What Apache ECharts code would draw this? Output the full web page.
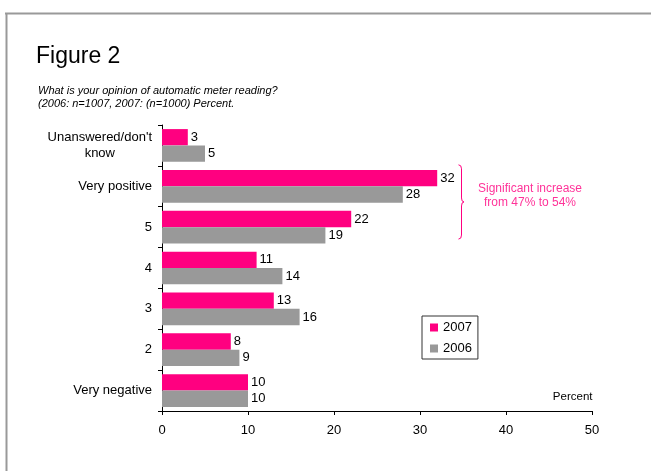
<!DOCTYPE html>
<html>
<head>
<meta charset="utf-8">
<title>Figure 2</title>
<script src="https://cdn.jsdelivr.net/npm/echarts@6/dist/echarts.min.js"></script>
<style>
  html, body { margin: 0; padding: 0; background: #fff; }
  #chart { width: 651px; height: 471px; }
</style>
</head>
<body>
<div id="chart"></div>
<script>
// Answer categories, top to bottom
const categories = ['Unanswered/don\'t\nknow', 'Very positive', '5', '4', '3', '2', 'Very negative'];
// Share of respondents, percent
const values2007 = [3, 32, 22, 11, 13, 8, 10];
const values2006 = [5, 28, 19, 14, 16, 9, 10];
const seriesNames = ['2007', '2006'];
const xTicks = [0, 10, 20, 30, 40, 50];

const PINK = '#ff0080';
const GREY = '#999999';
const NOTE = '#ff3399';
const FONT = '"Liberation Sans", Arial, sans-serif';

const chart = echarts.init(document.getElementById('chart'), null, { renderer: 'canvas' });

const valueLabel = {
  show: true,
  position: 'right',
  distance: 3,
  color: '#000',
  fontSize: 13,
  fontFamily: FONT
};

chart.setOption({
  animation: false,
  backgroundColor: '#fff',
  textStyle: { fontFamily: FONT },
  title: [
    {
      text: 'Figure 2',
      left: 36,
      top: 45,
      padding: 0,
      textStyle: { fontSize: 23, fontWeight: 'normal', color: '#000', fontFamily: FONT }
    },
    {
      text: 'What is your opinion of automatic meter reading?\n(2006: n=1007, 2007: (n=1000) Percent.',
      left: 38,
      top: 84,
      padding: 0,
      textStyle: { fontSize: 11, fontStyle: 'italic', fontWeight: 'normal', color: '#000', lineHeight: 13, fontFamily: FONT }
    }
  ],
  legend: {
    data: seriesNames,
    orient: 'vertical',
    left: 422,
    top: 316,
    padding: [5, 6, 4, 8],
    itemGap: 8,
    itemWidth: 8,
    itemHeight: 8,
    icon: 'rect',
    borderColor: '#333',
    borderWidth: 1,
    textStyle: { fontSize: 13, color: '#000', fontFamily: FONT }
  },
  grid: { left: 162, right: 59, top: 125, bottom: 60, containLabel: false },
  xAxis: {
    type: 'value',
    min: xTicks[0],
    max: xTicks[xTicks.length - 1],
    interval: xTicks[1] - xTicks[0],
    axisLine: { show: true, lineStyle: { color: '#000', width: 1 } },
    axisTick: { show: true, length: 4, lineStyle: { color: '#000' } },
    splitLine: { show: false },
    axisLabel: { color: '#000', fontSize: 13, margin: 13, fontFamily: FONT }
  },
  yAxis: {
    type: 'category',
    inverse: true,
    data: categories,
    axisLine: { show: true, lineStyle: { color: '#000', width: 1 } },
    axisTick: { show: true, length: 4, alignWithLabel: false, lineStyle: { color: '#000' } },
    axisLabel: {
      color: '#000',
      fontSize: 13,
      margin: 10,
      fontFamily: FONT,
      formatter: function (v) {
        return v.indexOf('\n') >= 0 ? '{c|' + v + '}' : v;
      },
      rich: { c: { align: 'center', fontSize: 13, lineHeight: 16, color: '#000', fontFamily: FONT } }
    }
  },
  series: [
    {
      name: seriesNames[0],
      type: 'bar',
      data: values2007,
      itemStyle: { color: PINK },
      barGap: '0%',
      barCategoryGap: '20%',
      label: valueLabel
    },
    {
      name: seriesNames[1],
      type: 'bar',
      data: values2006,
      itemStyle: { color: GREY },
      barGap: '0%',
      barCategoryGap: '20%',
      label: valueLabel
    }
  ]
});

// Brace and note next to the two top-rated answers, placed from the axis scale
function drawNotes() {
  const yTop = chart.convertToPixel({ yAxisIndex: 0 }, categories[1]);
  const yBot = chart.convertToPixel({ yAxisIndex: 0 }, categories[2]);
  const band = yBot - yTop;
  const y0 = yTop - band / 2 - 1;
  const y1 = yBot + band / 2 - 8.5;
  const ym = (y0 + y1) / 2;
  const xb = 461.5;
  const r = 4;
  const xEnd = chart.convertToPixel({ xAxisIndex: 0 }, xTicks[xTicks.length - 1]);
  const yAxisBottom = chart.convertToPixel({ yAxisIndex: 0 }, categories[categories.length - 1]) + band / 2;
  const braceStyle = { stroke: PINK, lineWidth: 1, fill: null };

  chart.setOption({
    graphic: [
      // page frame
      { type: 'line', shape: { x1: 5, y1: 13.5, x2: 651, y2: 13.5 }, style: { stroke: '#999', lineWidth: 2 }, silent: true },
      { type: 'line', shape: { x1: 6.5, y1: 13, x2: 6.5, y2: 471 }, style: { stroke: '#999', lineWidth: 2 }, silent: true },
      // curly brace
      { type: 'bezierCurve', shape: { x1: xb - 3, y1: y0, cpx1: xb, cpy1: y0, x2: xb, y2: y0 + r }, style: braceStyle, silent: true },
      { type: 'line', shape: { x1: xb, y1: y0 + r, x2: xb, y2: ym - r }, style: braceStyle, silent: true },
      { type: 'bezierCurve', shape: { x1: xb, y1: ym - r, cpx1: xb, cpy1: ym, x2: xb + 2.5, y2: ym }, style: braceStyle, silent: true },
      { type: 'bezierCurve', shape: { x1: xb + 2.5, y1: ym, cpx1: xb, cpy1: ym, x2: xb, y2: ym + r }, style: braceStyle, silent: true },
      { type: 'line', shape: { x1: xb, y1: ym + r, x2: xb, y2: y1 - r }, style: braceStyle, silent: true },
      { type: 'bezierCurve', shape: { x1: xb, y1: y1 - r, cpx1: xb, cpy1: y1, x2: xb - 3, y2: y1 }, style: braceStyle, silent: true },
      {
        type: 'text',
        x: 530,
        y: ym - 6.5,
        style: {
          text: 'Significant increase\nfrom 47% to 54%',
          fill: NOTE,
          fontSize: 12,
          lineHeight: 14,
          fontFamily: FONT,
          align: 'center',
          verticalAlign: 'middle'
        },
        silent: true
      },
      {
        type: 'text',
        x: xEnd + 0.5,
        y: yAxisBottom - 14.5,
        style: {
          text: 'Percent',
          fill: '#000',
          fontSize: 11.5,
          fontFamily: FONT,
          align: 'right',
          verticalAlign: 'middle'
        },
        silent: true
      }
    ]
  });
}
drawNotes();
</script>
</body>
</html>
